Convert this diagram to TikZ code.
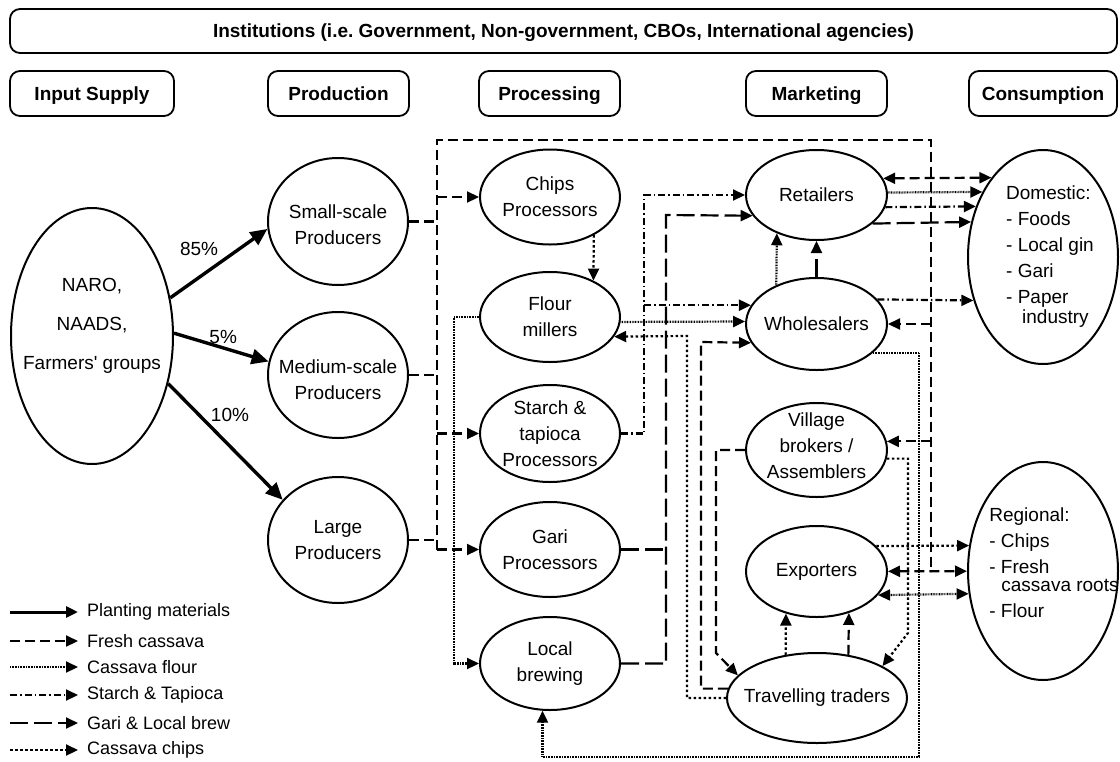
\documentclass[tikz,border=0pt]{standalone}
\usepackage{fontspec}
\setmainfont{Liberation Sans}
\usetikzlibrary{shapes.geometric,arrows.meta}
\frenchspacing
\newcommand{\sz}{\fontsize{19}{26}\selectfont}
\tikzset{
  stage/.style={draw, rounded corners=10pt, line width=1.8pt, inner sep=0pt,
    minimum height=45pt, text height=17.6pt, text depth=4pt, font=\sz\bfseries},
  actor/.style={draw, ellipse, line width=2pt, inner sep=0pt},
  txt/.style={font=\sz, align=center, inner sep=0pt},
  key/.style={font=\fontsize{18}{22}\selectfont, inner sep=0pt, anchor=west},
  flow/.style={line width=2.2pt, >={Triangle[length=12pt,width=11pt]}},
  planting/.style={line width=3.4pt, >={Triangle[length=17pt,width=15pt]}},
  fresh/.style={flow, dash pattern=on 10pt off 5pt},
  flour/.style={flow, dash pattern=on 0.8pt off 0.8pt},
  starch/.style={flow, dash pattern=on 7pt off 3pt on 1.5pt off 3pt},
  gari/.style={flow, dash pattern=on 18pt off 6pt},
  chips/.style={flow, dash pattern=on 2.5pt off 2.5pt}
}

\begin{document}
\begin{tikzpicture}[x=1pt, y=-1pt]
  \useasboundingbox (0,0) rectangle (1120,761);

  \node[stage, minimum width=1107pt, minimum height=44pt] (inst) at (563.5,31)
    {Institutions (i.e. Government, Non-government, CBOs, International agencies)};
  \node[stage, minimum width=164pt] (input) at (92,93.5) {Input Supply};
  \node[stage, minimum width=141pt] (prod) at (338.5,93.5) {Production};
  \node[stage, minimum width=141pt] (proc) at (549.5,93.5) {Processing};
  \node[stage, minimum width=141pt] (mark) at (816.5,93.5) {Marketing};
  \node[stage, minimum width=148pt] (cons) at (1043,93.5) {Consumption};

  \node[actor, minimum width=162pt, minimum height=256pt,
    label={[txt, yshift=10pt]center:{NARO,\\[13pt]NAADS,\\[13pt]Farmers\textquotesingle{} groups}}] (naro) at (92,336) {};
  \node[actor, minimum width=140pt, minimum height=127pt,
    label={[txt, yshift=-3pt]center:{Small-scale\\Producers}}] (small) at (338,221.5) {};
  \node[actor, minimum width=140pt, minimum height=126pt,
    label={[txt, yshift=-5pt]center:{Medium-scale\\Producers}}] (medium) at (338,375) {};
  \node[actor, minimum width=140pt, minimum height=126pt,
    label={[txt]center:{Large\\Producers}}] (large) at (338,540) {};

  \node[actor, minimum width=140pt, minimum height=95pt,
    label={[txt]center:{Chips\\Processors}}] (chips) at (550,197) {};
  \node[actor, minimum width=140pt, minimum height=90pt,
    label={[txt]center:{Flour\\millers}}] (flour) at (550,317) {};
  \node[actor, minimum width=140pt, minimum height=97pt,
    label={[txt]center:{Starch \&\\tapioca\\Processors}}] (starch) at (550,433.5) {};
  \node[actor, minimum width=140pt, minimum height=95pt,
    label={[txt]center:{Gari\\Processors}}] (gari) at (550,549.5) {};
  \node[actor, minimum width=140pt, minimum height=93pt,
    label={[txt]center:{Local\\brewing}}] (brew) at (550,663.5) {};

  \node[actor, minimum width=141pt, minimum height=90pt,
    label={[txt]center:Retailers}] (retail) at (816.5,195) {};
  \node[actor, minimum width=141pt, minimum height=92pt,
    label={[txt]center:Wholesalers}] (whole) at (816.5,324) {};
  \node[actor, minimum width=141pt, minimum height=94pt,
    label={[txt, yshift=4pt]center:{Village\\brokers /\\Assemblers}}] (village) at (816.5,450) {};
  \node[actor, minimum width=141pt, minimum height=91pt,
    label={[txt]center:Exporters}] (export) at (816.5,571.5) {};
  \node[actor, minimum width=180pt, minimum height=90pt,
    label={[txt]center:Travelling traders}] (travel) at (817,698) {};

  \node[actor, minimum width=150pt, minimum height=214pt,
    label={[txt, align=left, xshift=7pt]center:{Domestic:\\- Foods\\- Local gin\\- Gari\\- Paper\\[-6pt]\hspace*{16pt}industry}}] (domestic) at (1043,257) {};
  \node[actor, minimum width=150pt, minimum height=218pt,
    label={[txt, align=left, xshift=11pt, yshift=8pt]center:{Regional:\\- Chips\\- Fresh\\[-8pt]\hspace*{12pt}cassava roots\\- Flour}}] (regional) at (1043,571) {};

  \draw[planting,->] (naro.26) -- (small.186)
    node[txt, pos=.54, anchor=south east, inner sep=3pt] {85\%};
  \draw[planting,->] (naro.2) -- (medium.169)
    node[txt, pos=.52, anchor=south, inner sep=3pt] {5\%};
  \draw[planting,->] (naro.-32) -- (large.144)
    node[txt, pos=.35, anchor=south west, inner sep=1pt] {10\%};

  \coordinate (busL) at (437,140);
  \coordinate (busR) at (931,140);
  \draw[fresh] (gari.west -| busL) -- (busL) -- (busR) -- (busR |- export.east);
  \draw[fresh] (small.east) -- (small.east -| busL);
  \draw[fresh] (medium.east) -- (medium.east -| busL);
  \draw[fresh] (large.east) -- (large.east -| busL);
  \draw[fresh,->] (chips.west -| busL) -- (chips.west);
  \draw[fresh,->] (starch.west -| busL) -- (starch.west);
  \draw[fresh,->] (gari.west -| busL) -- (gari.west);
  \draw[fresh,->] (busR |- whole.east) -- (whole.east);
  \draw[fresh,->] (busR |- village.7) -- (village.7);
  \draw[fresh,<->] (export) -- (regional);
  \draw[fresh,<->] (retail.14) -- (domestic.123);
  \coordinate (vd) at (716,653);
  \draw[fresh,->] (village.west) -| (vd) -- (travel.164);
  \coordinate (td) at (701,342);
  \draw[fresh,->] (travel.174) -| (td) -- (whole.196);
  \draw[fresh,->] (travel.54) -- (export.-52);

  \coordinate (sx) at (644,195);
  \draw[starch,->] (starch.east) -| (sx) -- (retail.west);
  \draw[starch,->] (sx |- whole.164) -- (whole.164);
  \draw[starch,->] (retail.-10) -- (domestic.143);
  \draw[starch,->] (whole.22) -- (domestic.212);

  \coordinate (gx) at (666,215);
  \draw[gari] (gari.east) -- (gari.east -| gx);
  \draw[gari,->] (brew.east) -| (gx) -- (retail.198);
  \draw[gari,->] (whole) -- (retail);
  \draw[gari,->] (retail.-27) -- (domestic.154);

  \draw[flour,->] (flour.west) -- ++(-25,0) |- (brew.west);
  \draw[flour,->] (flour.-4) -- (whole.178);
  \draw[flour,->] (whole.136) -- (retail.224);
  \draw[flour,->] (retail.2) -- (domestic.133);
  \coordinate (fl) at (919,757);
  \draw[flour,->] (whole.-27) -| (fl) -| (brew.261);
  \draw[flour,<->] (export.-21) -- (regional.197);

  \draw[chips,->] (chips.-41) -- (flour.40);
  \coordinate (cx) at (687,336);
  \draw[chips,->] (travel.west) -| (cx) -- (flour.-17);
  \coordinate (vx) at (908,633);
  \draw[chips,->] (village.-7) -| (vx) -- (travel.26);
  \draw[chips,->] (travel.126) -- (export.234);
  \draw[chips,->] (export.23) -- (regional.161);

  \coordinate (k1) at (10,612);
  \coordinate (k2) at (10,641);
  \coordinate (k3) at (10,667);
  \coordinate (k4) at (10,695);
  \coordinate (k5) at (10,723);
  \coordinate (k6) at (10,750);
  \node[key] (key1) at (87,612) {Planting materials};
  \node[key] (key2) at (87,641) {Fresh cassava};
  \node[key] (key3) at (87,667) {Cassava flour};
  \node[key] (key4) at (87,695) {Starch \& Tapioca};
  \node[key] (key5) at (87,723) {Gari \& Local brew};
  \node[key] (key6) at (87,750) {Cassava chips};
  \draw[flow, line width=3pt, ->] (k1) -- ([xshift=-9pt]key1.west);
  \draw[fresh,->] (k2) -- ([xshift=-9pt]key2.west);
  \draw[flour,->] (k3) -- ([xshift=-9pt]key3.west);
  \draw[starch,->] (k4) -- ([xshift=-9pt]key4.west);
  \draw[gari,->] (k5) -- ([xshift=-9pt]key5.west);
  \draw[chips,->] (k6) -- ([xshift=-9pt]key6.west);
\end{tikzpicture}
\end{document}
